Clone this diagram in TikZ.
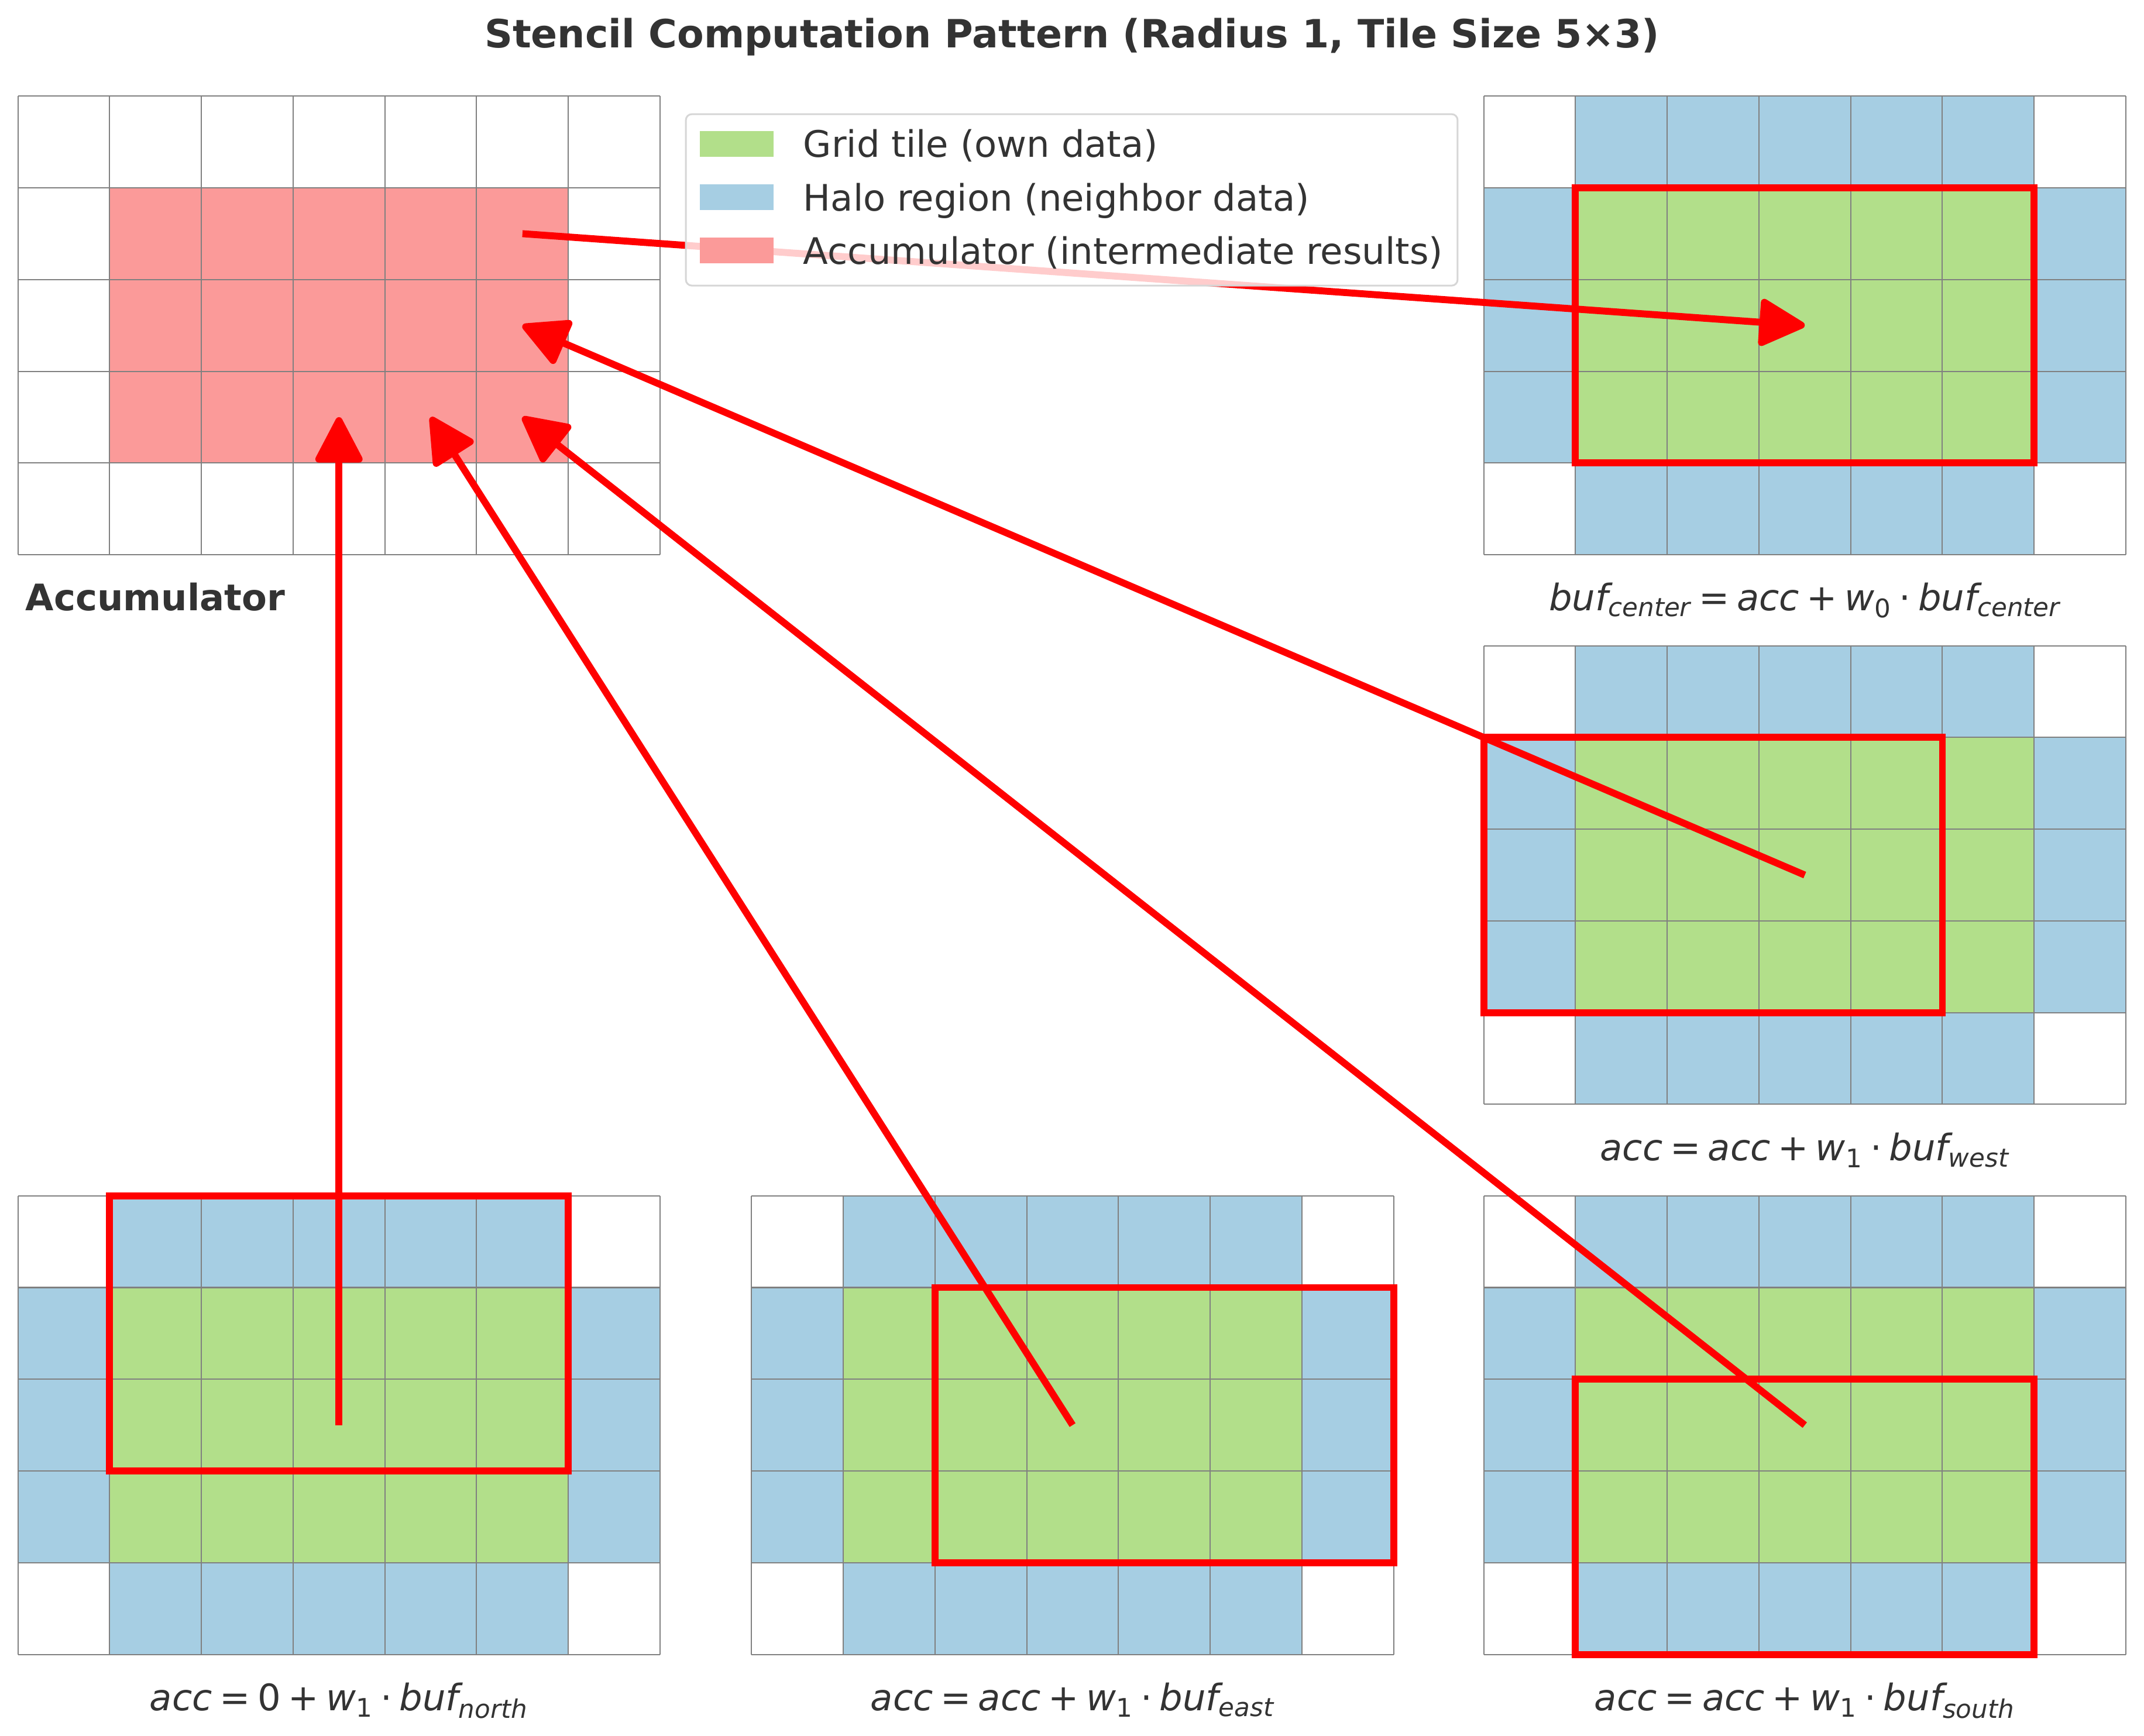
\documentclass[tikz,border=0pt]{standalone}
\usepackage{fontspec}
\setmainfont{DejaVu Sans}
\usetikzlibrary{arrows.meta}
\definecolor{tilegreen}{HTML}{B2DF8A}
\definecolor{halo}{HTML}{A6CEE3}
\definecolor{accred}{HTML}{FB9A99}
\definecolor{txt}{HTML}{333333}
\newcommand\op[1]{\hspace{0.2em}{\upshape #1}\hspace{0.2em}}
\newcommand\ix[1]{\textsubscript{#1}}

\tikzset{
	cell/.style={draw=gray, line width=0.5pt},
	win/.style={draw=red, line width=2.9pt},
	flow/.style={red, line width=2.9pt, -{Triangle[length=20.7pt, width=20.8pt, round]}},
	lbl/.style={font=\fontsize{15.2}{18}\selectfont, text=txt, inner sep=0pt, anchor=base},
	legframe/.style={draw=black!16, line width=0.73pt, fill=white, fill opacity=0.8, rounded corners=2.5pt}
}

\begin{document}
\begin{tikzpicture}[x=0.02cm, y=-0.02cm]
\fill[white] (0,0) rectangle (1568,1269.7);
\useasboundingbox (0,0) rectangle (1568,1269.7);

\node[lbl, font=\bfseries\fontsize{16.2}{20}\selectfont] (title) at (784,35) {Stencil Computation Pattern (Radius 1, Tile Size 5×3)};

% accumulator
\begin{scope}[shift={(13.1,70.3)}, x=1.342cm, y=-1.342cm]
\fill[accred] (1,1) rectangle (6,4);
\foreach \i in {0,...,7} \draw[cell] (\i,0) -- (\i,5);
\foreach \j in {0,...,5} \draw[cell] (0,\j) -- (7,\j);
\coordinate (acc51) at (5.5,1.5);
\coordinate (acc52) at (5.5,2.5);
\coordinate (acc33) at (3.5,3.5);
\coordinate (acc43) at (4.5,3.5);
\coordinate (acc53) at (5.5,3.5);
\end{scope}
\node[lbl, anchor=base west, font=\bfseries\fontsize{15.2}{18}\selectfont] (acclbl) at (18.4,446.4) {Accumulator};

% halo grids with shifted window
\foreach \gx/\gy/\wx/\wy/\nm in {1085.1/70.3/1/1/center, 1085.1/472.3/0/1/west, 13.1/874.6/1/0/north, 549.6/874.6/2/1/east, 1085.1/874.6/1/2/south}{
	\begin{scope}[shift={(\gx,\gy)}, x=1.342cm, y=-1.342cm]
	\fill[halo] (1,0) rectangle (6,5);
	\fill[halo] (0,1) rectangle (7,4);
	\fill[tilegreen] (1,1) rectangle (6,4);
	\foreach \i in {0,...,7} \draw[cell] (\i,0) -- (\i,5);
	\foreach \j in {0,...,5} \draw[cell] (0,\j) -- (7,\j);
	\draw[win] (\wx,\wy) rectangle ++(5,3);
	\coordinate (\nm) at (3.5,2.5);
	\end{scope}
	}

\node[lbl] (lbl-center) at (1320,446.5) {\itshape buf\ix{center}\op{=}acc\op{+}w\ix{\upshape 0}\op{·}buf\ix{center}};
\node[lbl] (lbl-west) at (1320,849) {\itshape acc\op{=}acc\op{+}w\ix{\upshape 1}\op{·}buf\ix{west}};
\node[lbl] (lbl-north) at (248,1251) {\itshape acc\op{=}{\upshape 0}\op{+}w\ix{\upshape 1}\op{·}buf\ix{north}};
\node[lbl] (lbl-east) at (784.5,1251) {\itshape acc\op{=}acc\op{+}w\ix{\upshape 1}\op{·}buf\ix{east}};
\node[lbl] (lbl-south) at (1320,1251) {\itshape acc\op{=}acc\op{+}w\ix{\upshape 1}\op{·}buf\ix{south}};

\draw[flow] (acc51) -- (center);
\draw[flow] (west) -- (acc52);
\draw[flow] (north) -- (acc33);
\draw[flow] (east) -- (acc43);
\draw[flow] (south) -- (acc53);

% legend
\draw[legframe] (501.6,83.5) rectangle (1066,208.9);
\foreach \c/\y/\t in {tilegreen/105.2/Grid tile (own data), halo/144.2/Halo region (neighbor data), accred/183.2/Accumulator (intermediate results)}{
	\fill[\c] (512,\y-9.3) rectangle (565.8,\y+9.3);
	\node[lbl, anchor=base west] (leg-\c) at (587.2,\y+9.9) {\t};
	}
\end{tikzpicture}
\end{document}
